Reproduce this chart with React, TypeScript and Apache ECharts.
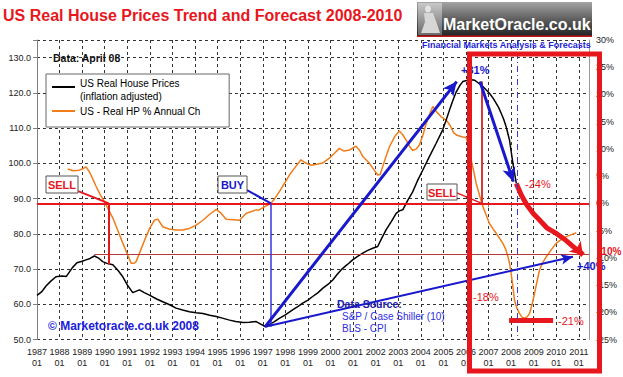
import React, { useEffect, useRef } from 'react';
import * as echarts from 'echarts';

const FONT = "'Liberation Sans', Arial, Helvetica, sans-serif";
const RED = '#e8161d';
const BLUE = '#1818cc';

const TITLE = 'US Real House Prices Trend and Forecast 2008-2010';
const PRICE_NAME = 'US Real House Prices\n(inflation adjusted)';
const CHANGE_NAME = 'US - Real HP % Annual Ch';

// US real house price index (left axis)
const priceYears = [1987.0, 1987.2, 1987.4, 1987.6, 1987.84, 1988.1, 1988.3, 1988.57, 1988.77, 1989.0, 1989.17, 1989.35, 1989.54, 1989.75, 1989.91, 1990.1, 1990.36, 1990.6, 1990.8, 1991.0, 1991.24, 1991.54, 1991.75, 1991.98, 1992.3, 1992.57, 1992.9, 1993.16, 1993.45, 1993.75, 1994.05, 1994.35, 1994.65, 1994.94, 1995.25, 1995.53, 1995.8, 1996.12, 1996.4, 1996.71, 1996.95, 1997.1, 1997.3, 1997.5, 1997.73, 1998.0, 1998.32, 1998.55, 1998.77, 1999.0, 1999.21, 1999.45, 1999.65, 1999.9, 2000.1, 2000.3, 2000.54, 2000.75, 2000.98, 2001.2, 2001.43, 2001.65, 2001.87, 2002.09, 2002.25, 2002.46, 2002.7, 2002.91, 2003.05, 2003.2, 2003.42, 2003.64, 2003.85, 2004.09, 2004.38, 2004.68, 2004.97, 2005.12, 2005.27, 2005.42, 2005.57, 2005.72, 2005.86, 2006.08, 2006.25, 2006.38, 2006.55, 2006.75, 2007.04, 2007.2, 2007.34, 2007.45, 2007.56, 2007.67, 2007.78, 2007.85, 2007.93, 2008.0, 2008.08, 2008.16, 2008.23];
const priceValues = [62.5, 63.5, 65.2, 66.5, 67.8, 68.0, 67.9, 70.4, 71.8, 72.2, 72.6, 73.0, 73.7, 73.0, 72.1, 71.6, 71.2, 69.5, 67.8, 65.5, 63.3, 64.1, 63.3, 62.6, 61.5, 60.7, 59.8, 58.9, 58.4, 57.9, 57.6, 57.4, 56.9, 56.5, 56.0, 55.5, 55.1, 54.8, 54.9, 55.1, 54.2, 53.7, 54.3, 55.0, 56.0, 57.0, 58.4, 59.3, 60.3, 61.2, 62.2, 63.3, 64.5, 65.7, 66.9, 68.5, 70.2, 71.3, 72.6, 73.6, 74.5, 75.3, 75.9, 76.4, 78.5, 81.1, 83.5, 85.8, 86.5, 86.8, 89.5, 91.9, 95.0, 98.1, 101.9, 105.7, 109.5, 112.2, 115.1, 117.8, 120.3, 122.0, 123.2, 123.6, 123.7, 123.6, 122.8, 121.8, 119.9, 118.5, 117.0, 115.8, 114.2, 112.5, 110.4, 108.6, 106.6, 103.5, 100.0, 97.0, 94.3];

// Forecast path 2008-2010 (left axis)
const forecastYears = [2008.23, 2008.45, 2008.7, 2009.0, 2009.26, 2009.6, 2010.0, 2010.4, 2010.8, 2011.18];
const forecastValues = [94.3, 91.0, 88.2, 85.6, 83.9, 81.6, 80.1, 78.3, 76.1, 74.0];

// Real HP % annual change (right axis)
const changeYears = [1988.36, 1988.6, 1988.88, 1989.05, 1989.17, 1989.32, 1989.47, 1989.62, 1989.8, 1989.98, 1990.15, 1990.36, 1990.58, 1990.8, 1991.0, 1991.17, 1991.3, 1991.39, 1991.6, 1991.83, 1992.0, 1992.2, 1992.35, 1992.57, 1992.85, 1993.16, 1993.45, 1993.75, 1994.05, 1994.35, 1994.65, 1994.94, 1995.15, 1995.38, 1995.7, 1995.97, 1996.27, 1996.5, 1996.71, 1996.84, 1997.05, 1997.36, 1997.55, 1997.73, 1997.95, 1998.18, 1998.45, 1998.69, 1998.9, 1999.14, 1999.4, 1999.65, 1999.95, 2000.2, 2000.39, 2000.6, 2000.84, 2001.13, 2001.28, 2001.43, 2001.72, 2001.92, 2002.09, 2002.2, 2002.31, 2002.45, 2002.61, 2002.85, 2003.05, 2003.2, 2003.35, 2003.5, 2003.64, 2003.8, 2003.94, 2004.1, 2004.24, 2004.4, 2004.53, 2004.7, 2004.9, 2005.12, 2005.3, 2005.45, 2005.6, 2005.86, 2006.01, 2006.12, 2006.23, 2006.35, 2006.45, 2006.6, 2006.75, 2006.9, 2007.04, 2007.2, 2007.34, 2007.5, 2007.63, 2007.76, 2007.86, 2007.93, 2008.0, 2008.08, 2008.15, 2008.25, 2008.37, 2008.48, 2008.6, 2008.72, 2008.82, 2008.93, 2009.04, 2009.15, 2009.26, 2009.4, 2009.56, 2009.8, 2010.0, 2010.2, 2010.45, 2010.7, 2010.89];
const changeValues = [6.3, 6.0, 6.1, 6.4, 6.7, 5.8, 4.5, 3.1, 1.6, 0.3, -1.0, -2.7, -5.0, -7.3, -9.3, -11.0, -11.0, -10.7, -8.5, -6.1, -4.5, -3.1, -2.9, -4.3, -4.7, -4.9, -4.9, -4.6, -4.0, -3.1, -2.0, -1.1, -1.8, -2.9, -3.0, -3.1, -1.8, -1.5, -1.2, -1.2, -0.7, 0.0, 1.0, 2.1, 3.6, 5.2, 6.7, 8.0, 7.4, 7.0, 7.2, 7.4, 8.3, 9.3, 10.1, 9.6, 9.8, 10.5, 9.8, 8.6, 7.4, 6.2, 5.2, 5.3, 6.7, 8.5, 10.4, 12.3, 13.3, 12.6, 11.6, 10.5, 9.7, 10.0, 10.7, 12.6, 14.7, 16.5, 17.8, 16.8, 15.9, 15.3, 14.3, 13.0, 12.5, 12.2, 12.1, 10.5, 8.0, 5.8, 3.7, 1.5, -0.6, -2.2, -3.7, -4.7, -5.5, -6.5, -7.3, -8.4, -9.8, -11.0, -12.8, -15.3, -17.8, -19.2, -20.2, -20.9, -21.1, -20.8, -20.2, -18.5, -16.5, -14.3, -12.2, -10.9, -9.8, -8.4, -7.3, -6.7, -6.1, -5.7, -5.4];

// Axis settings
const X_MIN = 1987;
const X_MAX = 2011.45;
const LEFT_MIN = 50;
const LEFT_MAX = 135;
const RIGHT_MIN = -25;
const RIGHT_MAX = 30;

// Annotation anchors (data space)
const zeroOnLeft = LEFT_MIN + ((0 - RIGHT_MIN) / (RIGHT_MAX - RIGHT_MIN)) * (LEFT_MAX - LEFT_MIN);
const sell1Year = 1990.18;
const buyYear = 1997.36;
const lowYear = 1997.1;
const lowValue = 53.6;
const peakYear = 2006.7;
const peakValue = 123.2;
const prior1989Peak = 74.3;
const forecastStartYear = 2008.27;
const bottomPct = -21.5;

const zip = (xs: number[], ys: number[]) => xs.map((x, i) => [x, ys[i]]);

const seg = (a: number[], b: number[], color: string, width: number, arrow = false, type: any = 'solid', arrowSize: any = 10) => [
  { coord: a, symbol: 'none', lineStyle: { color, width, type } },
  { coord: b, symbol: arrow ? 'arrow' : 'none', symbolSize: arrowSize },
];

// legend icons: a short line near the top (two-line label) or centred
const ICON_TOP = 'path://M0,4h23v2h-23z M0,0h0.01v0.01h-0.01z M0,15.99h0.01v0.01h-0.01z';
const ICON_MID = 'path://M0,7h23v2h-23z M0,0h0.01v0.01h-0.01z M0,15.99h0.01v0.01h-0.01z';

export default function App() {
  const ref = useRef<HTMLDivElement>(null);
  useEffect(() => {
    if (!ref.current) return;
    const chart = echarts.init(ref.current, undefined, { renderer: 'svg' });
    const textBox = (x: number, y: number, w: number, h: number, label: string, color: string) => ({
      type: 'group',
      z: 60,
      children: [
        { type: 'rect', shape: { x, y, width: w, height: h }, style: { fill: '#fff', stroke: '#555', lineWidth: 1 }, z: 60 },
        { type: 'text', x: x + w / 2, y: y + h / 2 + 0.5, style: { text: label, fill: color, font: `bold 11px ${FONT}`, align: 'center', verticalAlign: 'middle' }, z: 61 },
      ],
    });
    const txt = (x: number, y: number, text: string, color: string, size: number, bold = false, z = 55) => ({
      type: 'text', x, y, z,
      style: { text, fill: color, font: `${bold ? 'bold ' : ''}${size}px ${FONT}`, verticalAlign: 'middle' },
    });

    chart.setOption({
      animation: false,
      title: {
        text: TITLE, left: 3, top: 7, padding: 0,
        textStyle: { color: RED, fontFamily: FONT, fontWeight: 'bold', fontSize: 16 },
      },
      legend: {
        data: [{ name: PRICE_NAME, icon: ICON_TOP }, { name: CHANGE_NAME, icon: ICON_MID }],
        orient: 'vertical', left: 46, top: 74,
        backgroundColor: '#fff', borderColor: '#666', borderWidth: 1, borderRadius: 0,
        padding: [3, 28, 8, 6], itemWidth: 23, itemHeight: 16, itemGap: 0,
        selectedMode: false,
        textStyle: { fontFamily: FONT, fontSize: 10, color: '#000', lineHeight: 13 },
      },
      grid: { left: 37, right: 34, top: 40, bottom: 37.5, containLabel: false },
      xAxis: {
        type: 'value', min: X_MIN, max: X_MAX, interval: 1,
        axisLine: { show: true, lineStyle: { color: '#808080', width: 1 } },
        axisTick: { show: true, length: 4, lineStyle: { color: '#808080' } },
        axisLabel: {
          fontFamily: FONT, fontSize: 9, color: '#222', lineHeight: 11, margin: 7,
          formatter: (v: number) => (Number.isInteger(v) ? `${v}\n01` : ''),
        },
        splitLine: { show: true, lineStyle: { color: '#333', type: [3, 3], width: 1 } },
      },
      yAxis: [
        {
          type: 'value', min: LEFT_MIN, max: LEFT_MAX, interval: 10, position: 'left',
          axisLine: { show: true, lineStyle: { color: '#808080' } },
          axisTick: { show: true, length: 4, lineStyle: { color: '#808080' } },
          axisLabel: {
            fontFamily: FONT, fontSize: 9, color: '#222', margin: 6,
            formatter: (v: number) => (v % 10 === 0 ? v.toFixed(1) : ''),
          },
          splitLine: { show: true, lineStyle: { color: '#333', type: [3, 3], width: 1 } },
        },
        {
          type: 'value', min: RIGHT_MIN, max: RIGHT_MAX, interval: 5, position: 'right',
          axisLine: { show: true, lineStyle: { color: '#999' } },
          axisTick: { show: false },
          axisLabel: { fontFamily: FONT, fontSize: 9, color: '#222', margin: 7, formatter: (v: number) => `${v}%` },
          splitLine: { show: false },
        },
      ],
      series: [
        {
          name: CHANGE_NAME, type: 'line', yAxisIndex: 1, data: zip(changeYears, changeValues),
          symbol: 'none', lineStyle: { color: '#f07d1a', width: 1.5 }, itemStyle: { color: '#f07d1a' }, z: 2,
          markLine: {
            silent: true, symbol: ['none', 'none'], label: { show: false }, emphasis: { disabled: true },
            data: [
              seg([X_MIN, 0], [X_MAX, 0], RED, 2),
              seg([2007.91, bottomPct], [2009.86, bottomPct], RED, 5),
            ],
          },
        },
        {
          name: PRICE_NAME, type: 'line', yAxisIndex: 0, data: zip(priceYears, priceValues),
          symbol: 'none', lineStyle: { color: '#000', width: 1.5 }, itemStyle: { color: '#000' }, z: 3,
          markLine: {
            silent: true, symbol: ['none', 'none'], label: { show: false }, emphasis: { disabled: true },
            data: [
              seg([1989.54, prior1989Peak], [X_MAX, prior1989Peak], '#b23a3a', 1),
              seg([sell1Year, zeroOnLeft], [sell1Year, 71.2], RED, 2),
              seg([1988.82, 92.1], [sell1Year, zeroOnLeft], RED, 2),
              seg([1996.3, 92.4], [buyYear, zeroOnLeft], BLUE, 2),
              seg([buyYear, zeroOnLeft], [buyYear, lowValue], '#3535e0', 1.5),
              seg([lowYear, lowValue], [2005.59, peakValue], BLUE, 3, true, 'solid', [10, 14]),
              seg([lowYear, lowValue], [2010.74, 73.5], BLUE, 2, true, 'solid', [8, 12]),
              seg([peakYear, peakValue], [peakYear, zeroOnLeft], '#d83a3a', 2),
              seg([2005.6, 91.6], [peakYear, zeroOnLeft], RED, 1.5),
              seg([2006.62, peakValue], [2008.1, 94.8], BLUE, 3, true, 'solid', [10, 14]),
              seg([forecastStartYear, LEFT_MAX], [forecastStartYear, LEFT_MIN], '#3a3ad0', 1, false, [6, 3, 1, 3]),
            ],
          },
        },
        {
          name: 'Forecast', type: 'line', yAxisIndex: 0, data: zip(forecastYears, forecastValues),
          symbol: 'none', lineStyle: { color: RED, width: 5 }, itemStyle: { color: RED }, z: 4,
          markLine: {
            silent: true, symbol: ['none', 'none'], label: { show: false }, emphasis: { disabled: true },
            data: [seg([2010.95, 75.6], [2011.18, 74.0], RED, 5, true, 'solid', [12, 12])],
          },
        },
      ],
      graphic: [
        // logo
        {
          type: 'rect', z: 20, shape: { x: 417, y: 2, width: 175, height: 35 },
          style: { fill: { type: 'linear', x: 0, y: 0, x2: 0, y2: 1, colorStops: [
            { offset: 0, color: '#a4a4a4' }, { offset: 0.5, color: '#5e5e5e' }, { offset: 1, color: '#202020' }] } },
        },
        {
          type: 'rect', z: 21, shape: { x: 418, y: 3, width: 24, height: 32 },
          style: { fill: { type: 'linear', x: 0, y: 0, x2: 0, y2: 1, colorStops: [
            { offset: 0, color: '#c8c8c8' }, { offset: 1, color: '#6a6a6a' }] } },
        },
        { type: 'ellipse', z: 22, shape: { cx: 428, cy: 9, rx: 3, ry: 3.5 }, style: { fill: '#e4e4e4' } },
        { type: 'polygon', z: 22, shape: { points: [[424, 13], [433, 13], [437, 24], [440, 33], [421, 33], [425, 22]] }, style: { fill: '#d6d6d6' } },
        { type: 'rect', z: 22, shape: { x: 417, y: 35.5, width: 175, height: 1.5 }, style: { fill: '#c41414' } },
        txt(443, 24, 'MarketOracle.co.uk', '#fff', 16, true, 23),
        txt(422, 45, 'Financial Markets Analysis & Forecasts', '#2323d6', 9, true),
        // notes
        txt(53, 58, 'Data: April 08', '#111', 10.5, true),
        txt(337, 304, 'Data Source:', '#2020b0', 10.5, true),
        txt(342, 316, 'S&P / Case Shiller (10)', '#2e2ede', 10),
        txt(342, 328, 'BLS - CPI', '#2e2ede', 10),
        txt(48, 326, '© Marketoracle.co.uk 2008', '#1c1cdc', 12, true),
        textBox(46, 176, 32, 17, 'SELL', RED),
        textBox(218, 176, 29, 17, 'BUY', BLUE),
        textBox(427, 184, 30, 16, 'SELL', RED),
        txt(461, 70, '+31%', BLUE, 11, true),
        txt(525, 184, '-24%', RED, 11),
        txt(473, 297, '-18%', RED, 11),
        txt(558, 321, '-21%', RED, 11),
        txt(577, 266, '+40%', BLUE, 11, true),
        txt(598, 251, '-10%', RED, 10, true),
        // highlight frame
        {
          type: 'rect', z: 100, shape: { x: 469.5, y: 54, width: 130, height: 317 },
          style: { fill: 'none', stroke: RED, lineWidth: 5 },
        },
      ],
    });
    return () => chart.dispose();
  }, []);
  return <div ref={ref} style={{ position: 'fixed', left: 0, top: 0, width: 623, height: 377, background: '#fff' }} />;
}
